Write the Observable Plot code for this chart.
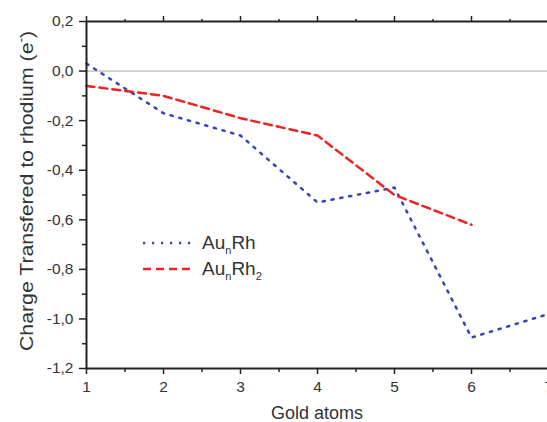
<!DOCTYPE html>
<html><head><meta charset="utf-8">
<script src="https://cdn.jsdelivr.net/npm/d3@7"></script>
<script src="https://cdn.jsdelivr.net/npm/@observablehq/plot@0.6"></script>
<style>
html,body{margin:0;padding:0;background:#fff;overflow:hidden}
</style>
</head><body><div id="chart"></div>
<script>
const goldAtoms = [1, 2, 3, 4, 5, 6, 7];
const aunRh = [0.03, -0.17, -0.26, -0.53, -0.47, -1.075, -0.98];
const aunRh2 = [-0.06, -0.10, -0.19, -0.26, -0.50, -0.62];
const xTicks = [1, 2, 3, 4, 5, 6, 7];
const xMinor = [1.5, 2.5, 3.5, 4.5, 5.5, 6.5];
const yTicks = [-1.2, -1.0, -0.8, -0.6, -0.4, -0.2, 0, 0.2];
const yMinor = [-1.1, -0.9, -0.7, -0.5, -0.3, -0.1, 0.1];
const seriesNames = [["Au", "n", "Rh", ""], ["Au", "n", "Rh", "2"]];
const seriesColors = ["#3344bb", "#ee2222"];
const seriesDash = ["2.2,6.8", "8,5"];
const xTitle = "Gold atoms";
const yTitleMain = "Charge Transfered to rhodium (e";
const yTitleSup = "-";
const yTitleEnd = ")";

const rh = aunRh.map((v, i) => ({x: goldAtoms[i], y: v}));
const rh2 = aunRh2.map((v, i) => ({x: goldAtoms[i], y: v}));
const fmt = d => d3.format(".1f")(d).replace("−", "-").replace(".", ",");
const blank = () => "";
const axisColor = "#222";
const tickFont = 15.5;

const plot = Plot.plot({
  width: 547,
  height: 422,
  marginLeft: 86,
  marginRight: -1,
  marginTop: 21,
  marginBottom: 54,
  style: {fontFamily: "'Liberation Sans', Arial, sans-serif", fontSize: "15px", color: "#333", background: "#fff"},
  x: {domain: [1, 7]},
  y: {domain: [-1.2, 0.2]},
  marks: [
    Plot.ruleY([0], {stroke: "#aaa", strokeWidth: 1}),
    Plot.line(rh, {x: "x", y: "y", stroke: seriesColors[0], strokeWidth: 2.5, strokeDasharray: seriesDash[0]}),
    Plot.line(rh2, {x: "x", y: "y", stroke: seriesColors[1], strokeWidth: 2.5, strokeDasharray: seriesDash[1]}),
    Plot.axisY({ticks: yTicks, tickSize: 7, tickPadding: 6, tickFormat: fmt, fontSize: tickFont, stroke: axisColor, strokeWidth: 1.5, label: null}),
    Plot.axisY({ticks: yMinor, tickSize: 4, tickFormat: blank, stroke: axisColor, strokeWidth: 1.5, label: null}),
    Plot.axisX({ticks: xTicks, tickSize: 6, tickPadding: 6, tickFormat: d => String(d), fontSize: tickFont, stroke: axisColor, strokeWidth: 1.5, label: null}),
    Plot.axisX({ticks: xMinor, tickSize: 4, tickFormat: blank, stroke: axisColor, strokeWidth: 1.5, label: null}),
    Plot.axisX({anchor: "top", ticks: xTicks, tickSize: 6, tickFormat: blank, stroke: axisColor, strokeWidth: 1.5, label: null}),
    Plot.axisX({anchor: "top", ticks: xMinor, tickSize: 3, tickFormat: blank, stroke: axisColor, strokeWidth: 1.5, label: null}),
    Plot.ruleX([1], {stroke: axisColor, strokeWidth: 2}),
    Plot.ruleY([-1.2], {stroke: axisColor, strokeWidth: 2}),
    Plot.ruleY([0.2], {stroke: axisColor, strokeWidth: 2})
  ]
});
document.getElementById("chart").appendChild(plot);

const svg = d3.select(plot);
svg.selectAll("text").style("font-size", tickFont + "px");
// axis titles
svg.append("text")
  .attr("x", 317).attr("y", 419)
  .attr("text-anchor", "middle")
  .attr("font-size", 18).attr("fill", "#333")
  .text(xTitle);
const yt = svg.append("text")
  .attr("transform", "translate(33,191) rotate(-90) scale(1.12,1)")
  .attr("text-anchor", "middle")
  .attr("font-size", 19).attr("fill", "#333");
yt.append("tspan").text(yTitleMain);
yt.append("tspan").attr("dy", -8).attr("font-size", 12).text(yTitleSup);
yt.append("tspan").attr("dy", 8).text(yTitleEnd);

// legend
const leg = svg.append("g");
const rowsY = [249, 275];
seriesNames.forEach((parts, i) => {
  const by = rowsY[i];
  leg.append("line")
    .attr("x1", 143).attr("x2", 192).attr("y1", by - 6).attr("y2", by - 6)
    .attr("stroke", seriesColors[i]).attr("stroke-width", 2.5)
    .attr("stroke-dasharray", seriesDash[i]);
  const t = leg.append("text").attr("x", 202).attr("y", by)
    .attr("text-anchor", "start")
    .attr("font-size", 19).attr("fill", "#333");
  t.append("tspan").text(parts[0]);
  t.append("tspan").attr("dy", 5).attr("font-size", 11).text(parts[1]);
  t.append("tspan").attr("dy", -5).text(parts[2]);
  if (parts[3]) t.append("tspan").attr("dy", 5).attr("font-size", 11).text(parts[3]);
});
</script>
</body></html>
